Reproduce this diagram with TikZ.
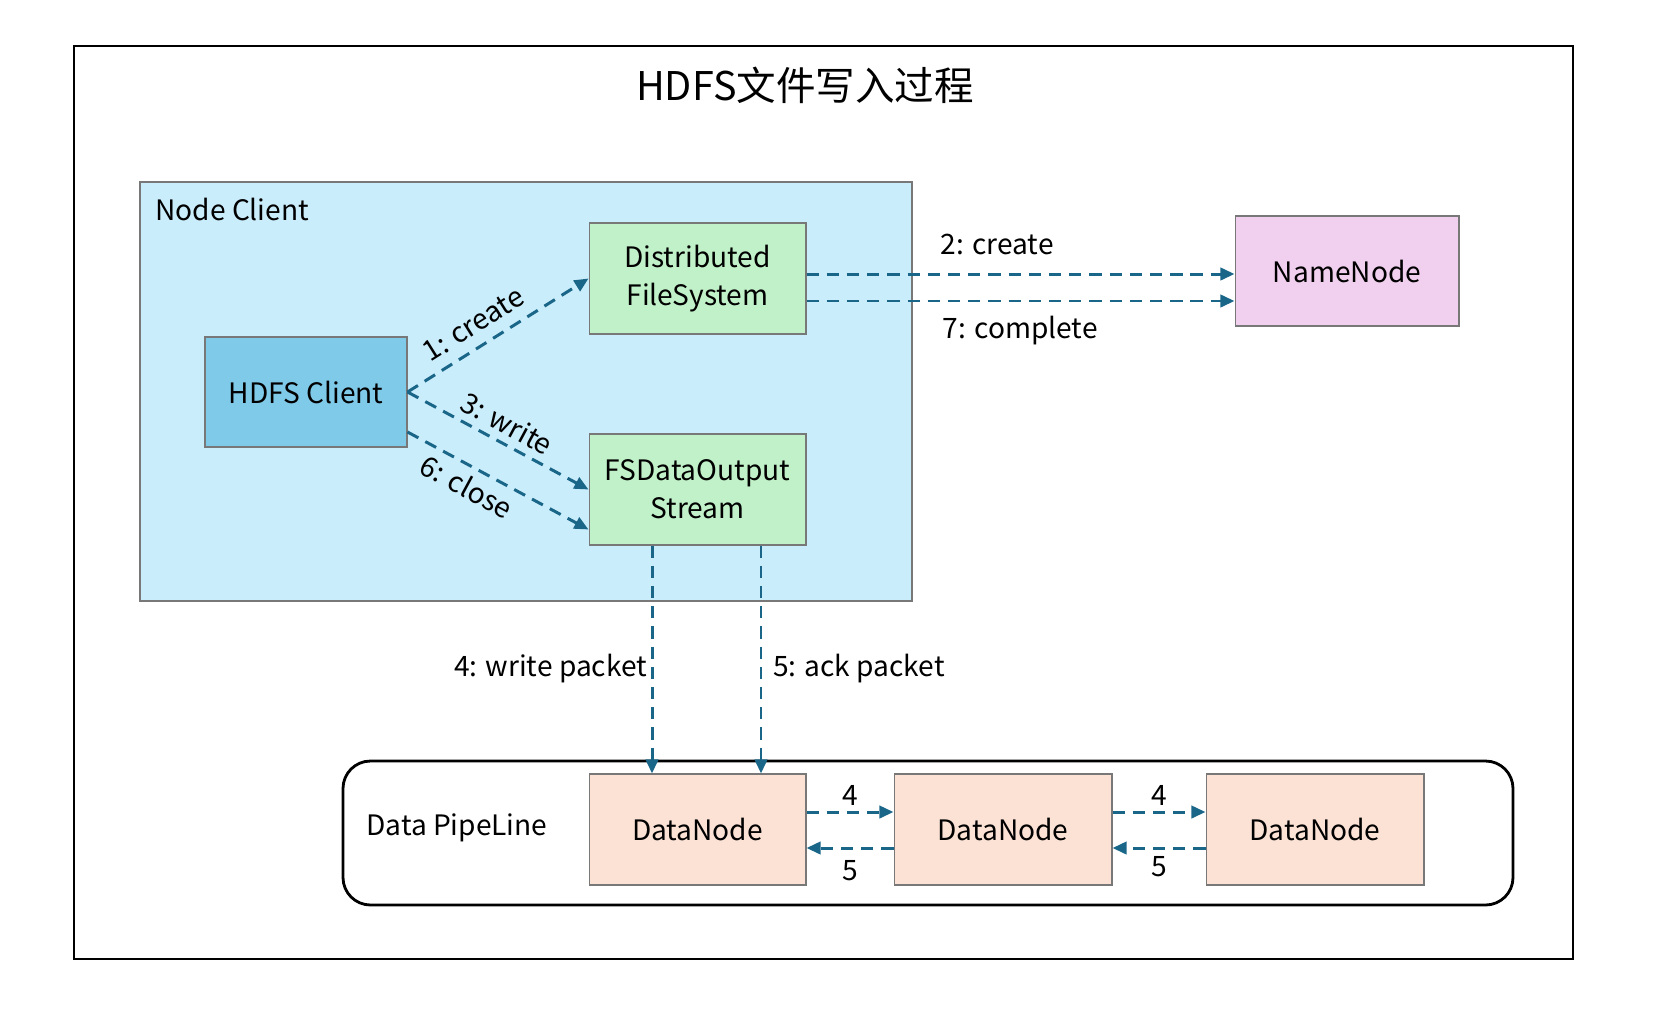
\documentclass[tikz,border=0pt]{standalone}
\usepackage{fontspec}
\setmainfont{Noto Sans CJK SC}
\usetikzlibrary{arrows.meta}

\definecolor{clientbg}{RGB}{202,237,251}
\definecolor{hdfsblue}{RGB}{128,202,233}
\definecolor{fsgreen}{RGB}{193,241,200}
\definecolor{nnpink}{RGB}{241,207,238}
\definecolor{dnpeach}{RGB}{251,226,213}
\definecolor{flowcol}{RGB}{26,102,136}
\definecolor{boxline}{RGB}{120,120,120}

\begin{document}
\begin{tikzpicture}
[
    x=0.02cm, y=-0.02cm,
    txt/.style={font=\fontsize{16}{21.5}\selectfont},
    box/.style={txt, draw=boxline, line width=0.6pt, minimum width=4.34cm, minimum height=2.22cm, align=center},
    flow/.style={draw=flowcol, line width=1.7pt, dash pattern=on 7pt off 4.5pt, -{Triangle[length=8pt,width=7pt]}},
    lbl/.style={txt, inner sep=3pt},
]
\useasboundingbox (0,0) rectangle (1660,1032);
\draw[line width=1.6pt] (74,46) rectangle (1573,959);
\node[font=\fontsize{22.5}{27}\selectfont] (title) at (805,85) {HDFS文件写入过程};

\draw[boxline, fill=clientbg, line width=0.6pt] (140,182) rectangle (912,601);
\node[txt, anchor=west, inner sep=0pt] (nclabel) at (155,209) {Node Client};
\draw[line width=1.6pt, rounded corners=0.55cm] (343,761) rectangle (1513,905);
\node[txt, anchor=west, inner sep=0pt] (pllabel) at (366,828) {Data PipeLine};

\node[box, fill=hdfsblue, minimum width=4.04cm, minimum height=2.2cm] (hc) at (306,392) {HDFS Client};
\node[box, fill=fsgreen] (dfs) at (697.5,278.5) {Distributed\\FileSystem};
\node[box, fill=fsgreen] (fs) at (697.5,489.5) {FSDataOutput\\Stream};
\node[box, fill=nnpink, minimum width=4.48cm, minimum height=2.2cm] (nn) at (1347,271) {NameNode};
\node[box, fill=dnpeach] (dn1) at (697.5,829.5) {DataNode};
\node[box, fill=dnpeach, minimum width=4.36cm] (dn2) at (1003,829.5) {DataNode};
\node[box, fill=dnpeach, minimum width=4.36cm] (dn3) at (1315,829.5) {DataNode};

\draw[flow] (hc.east) -- node[lbl, pos=0.43, above, sloped, inner sep=6pt] {1: create} (dfs.west);
\draw[flow] (hc.east) -- node[lbl, pos=0.5, above, sloped, inner sep=4pt] {3: write} (fs.west);
\draw[flow] ([yshift=-0.8cm]hc.east) -- node[lbl, pos=0.38, below, sloped, inner sep=4pt] {6: close} ([yshift=-0.8cm]fs.west);

\coordinate (c2) at ([yshift=0.09cm]dfs.east);
\coordinate (c7) at ([yshift=-0.45cm]dfs.east);
\draw[flow] (c2) -- (c2 -| nn.west);
\draw[flow] (c7) -- (c7 -| nn.west);
\node[lbl, anchor=west] (l2) at (935,244) {2: create};
\node[lbl, anchor=west] (l7) at (937,331) {7: complete};

\coordinate (c4) at ([xshift=-0.91cm]fs.south);
\coordinate (c5) at ([xshift=1.27cm]fs.south);
\draw[flow] (c4) -- node[lbl, pos=0.54, left, inner sep=2pt] {4: write packet} (c4 |- dn1.north);
\draw[flow] (c5) -- node[lbl, pos=0.54, right, inner sep=6pt] {5: ack packet} (c5 |- dn1.north);

\draw[flow] ([yshift=0.35cm]dn1.east) -- node[lbl, above] {4} ([yshift=0.35cm]dn2.west);
\draw[flow] ([yshift=-0.37cm]dn2.west) -- node[lbl, below, inner sep=6pt] {5} ([yshift=-0.37cm]dn1.east);
\draw[flow] ([yshift=0.35cm]dn2.east) -- node[lbl, above] {4} ([yshift=0.35cm]dn3.west);
\draw[flow] ([yshift=-0.37cm]dn3.west) -- node[lbl, below, inner sep=4pt] {5} ([yshift=-0.37cm]dn2.east);
\end{tikzpicture}
\end{document}
